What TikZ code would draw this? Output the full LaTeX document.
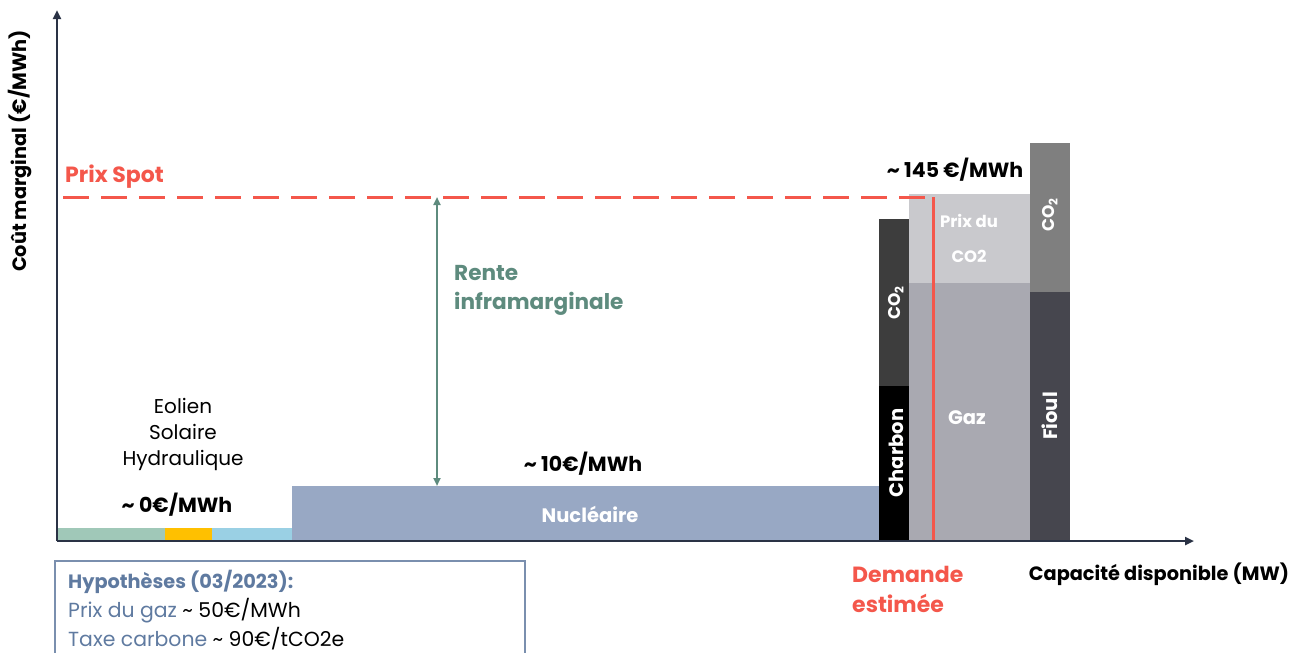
\documentclass[tikz,border=0pt]{standalone}
\usepackage{fontspec}
\setmainfont{Poppins}
\usetikzlibrary{arrows.meta}
\definecolor{axisc}{HTML}{2A3245}
\definecolor{spot}{HTML}{F4574B}
\definecolor{rente}{HTML}{5E8B7E}
\definecolor{nuc}{HTML}{98A8C4}
\definecolor{eol}{HTML}{A0C8B8}
\definecolor{sol}{HTML}{FFC000}
\definecolor{hyd}{HTML}{9AD0E4}
\definecolor{charb}{HTML}{000000}
\definecolor{charbco}{HTML}{3D3D3D}
\definecolor{gazco}{HTML}{C9C9CD}
\definecolor{gaz}{HTML}{A9A9B1}
\definecolor{fioulco}{HTML}{7F7F7F}
\definecolor{fioul}{HTML}{46464E}
\definecolor{hypo}{HTML}{5F7AA0}
\definecolor{hypoborder}{HTML}{7A8FAE}
\tikzset{
  axlbl/.style={font=\bfseries\fontsize{19.3}{22}\selectfont, text=black, inner sep=0pt},
  lbl/.style={font=\bfseries\fontsize{20.5}{22}\selectfont, text=black, inner sep=0pt, anchor=base},
  wlbl/.style={font=\bfseries\fontsize{19.5}{22}\selectfont, text=white, inner sep=0pt},
  slbl/.style={font=\bfseries\fontsize{16.5}{18}\selectfont, text=white, inner sep=0pt},
  reg/.style={font=\fontsize{20}{22}\selectfont, inner sep=0pt, anchor=base},
  redlbl/.style={font=\bfseries\fontsize{22}{24}\selectfont, text=spot, anchor=base west, inner sep=0pt},
  greenlbl/.style={font=\bfseries\fontsize{21.6}{24}\selectfont, text=rente, anchor=base west, inner sep=0pt},
  hyplbl/.style={font=\fontsize{20.4}{22}\selectfont, anchor=base west, inner sep=0pt},
}
\begin{document}
\begin{tikzpicture}[x=1pt,y=-1pt]
\useasboundingbox (0,0) rectangle (1301,653);
% bars
\fill[eol] (58,528) rectangle (165,540);
\fill[sol] (165,528) rectangle (212,540);
\fill[hyd] (212,528) rectangle (292,540);
\fill[nuc] (292,486) rectangle (879,540);
\node[wlbl] (nuclbl) at (590,514) {Nucléaire};
\fill[charb] (879,386) rectangle (909,540);
\fill[charbco] (879,219) rectangle (909,386);
\node[wlbl, rotate=90] (charblbl) at (896,453) {Charbon};
\node[wlbl, font=\bfseries\fontsize{17}{20}\selectfont, rotate=90] (charbco2) at (896,303) {CO\textsubscript{2}};
\fill[gazco] (909,194) rectangle (1030,283);
\fill[gaz] (909,283) rectangle (1030,540);
\node[slbl] (gp1) at (969,221) {Prix du};
\node[slbl] (gp2) at (969,256) {CO2};
\node[wlbl] (gazlbl) at (967,418) {Gaz};
\fill[fioulco] (1030,143) rectangle (1070,292);
\fill[fioul] (1030,292) rectangle (1070,540);
\node[wlbl, font=\bfseries\fontsize{17}{20}\selectfont, rotate=90] (fioulco2) at (1050,215) {CO\textsubscript{2}};
\node[wlbl, rotate=90] (fioullbl) at (1050,416) {Fioul};
% axes
\coordinate (origin) at (57,541);
\coordinate (ytip) at (57,10);
\coordinate (xtip) at (1194,541);
\draw[axisc, line width=2.8pt, -{Triangle[length=9pt,width=8pt]}] (origin) -- (ytip);
\draw[axisc, line width=2.8pt, -{Triangle[length=9pt,width=8pt]}] (origin) -- (xtip);
\node[axlbl, rotate=90] (ylab) at (20,151) {Coût marginal (€/MWh)};
\node[axlbl, anchor=base] (xlab) at (1159,580) {Capacité disponible (MW)};
% spot
\coordinate (spotL) at (63,197);
\coordinate (spotR) at (933,197);
\coordinate (spotB) at (933,540);
\draw[spot, line width=3pt, dash pattern=on 26pt off 12pt] (spotL) -- (spotR);
\draw[spot, line width=3pt] (spotR) -- (spotB);
\node[redlbl] (spotlbl) at (65,182) {Prix Spot};
% rente
\coordinate (rTop) at (437,197);
\coordinate (rBot) at (437,486);
\draw[rente, line width=2pt, {Triangle[length=8pt,width=7pt]}-{Triangle[length=8pt,width=7pt]}] (rTop) -- (rBot);
\node[greenlbl] (rente1) at (454,280) {Rente};
\node[greenlbl] (rente2) at (454,309) {inframarginale};
% labels
\node[lbl] (p10) at (583,471) {\textasciitilde{} 10€/MWh};
\node[lbl] (p0) at (177,512) {\textasciitilde{} 0€/MWh};
\node[lbl] (p145) at (955,177) {\textasciitilde{} 145 €/MWh};
\node[reg] (ren1) at (183,413) {Eolien};
\node[reg] (ren2) at (183,439) {Solaire};
\node[reg] (ren3) at (183,465) {Hydraulique};
\node[redlbl] (dem1) at (852,582) {Demande};
\node[redlbl] (dem2) at (852,612) {estimée};
% hypotheses
\draw[hypoborder, line width=1.2pt] (55,670) -- (55,561) -- (525,561) -- (525,670);
\node[hyplbl, font=\bfseries\fontsize{19.3}{20}\selectfont, text=hypo] (hyp1) at (68,588) {Hypothèses (03/2023):};
\node[hyplbl] (hyp2) at (68,617) {\textcolor{hypo}{Prix du gaz} \textasciitilde{} 50€/MWh};
\node[hyplbl] (hyp3) at (68,646) {\textcolor{hypo}{Taxe carbone} \textasciitilde{} 90€/tCO2e};
\end{tikzpicture}
\end{document}
